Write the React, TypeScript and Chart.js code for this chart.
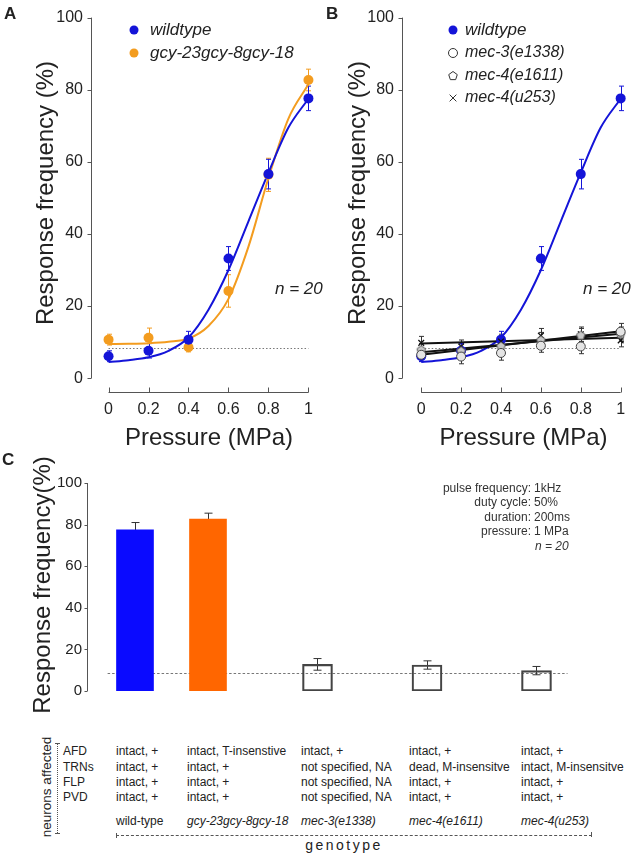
import React, { useEffect, useRef } from 'react';
import { Chart, registerables } from 'chart.js';
Chart.register(...registerables);

const FONT = '"Liberation Sans", Arial, Helvetica, sans-serif';
const BLUE = '#1414d8';
const ORANGE = '#f39c1f';
const BAR_BLUE = '#0a0aff';
const BAR_ORANGE = '#ff6600';
const TEXT = '#222222';
const AXIS = '#555555';

// ---------- data: panels A and B ----------
const pressures = [0, 0.2, 0.4, 0.6, 0.8, 1];
const wildtypeResp = [6.1, 7.6, 10.7, 33.2, 56.6, 77.6];
const wildtypeErr = [1.5, 2.0, 2.3, 3.3, 4.1, 3.4];
const gcyResp = [10.7, 11.2, 8.6, 24.2, 56.4, 82.7];
const gcyErr = [1.5, 2.7, 1.3, 4.5, 4.6, 3.0];
const fitPressures = [0, 0.1, 0.2, 0.3, 0.4, 0.5, 0.6, 0.7, 0.8, 0.9, 1];
const wildtypeFit = [4.5, 5.0, 5.8, 7.6, 11.3, 19.0, 30.0, 43.5, 57.0, 69.5, 77.5];
const gcyFit = [9.5, 9.55, 9.7, 10.1, 11.0, 14.5, 22.0, 36.5, 55.5, 72.0, 81.5];
const mec3Resp = [6.5, 6.0, 7.0, 9.0, 8.8, 12.9];
const mec3Err = [1.8, 2.0, 2.0, 1.8, 2.0, 2.3];
const mec4e1611Resp = [7.8, 7.5, 8.8, 10.5, 11.8, 12.2];
const mec4e1611Err = [1.8, 2.0, 2.0, 2.2, 2.0, 2.0];
const mec4u253Resp = [9.8, 8.8, 10.2, 11.8, 12.2, 10.5];
const mec4u253Err = [1.8, 1.8, 2.0, 2.0, 2.0, 1.8];
const linearFitEnds = [0, 1];
const mec3Fit = [6.5, 13.0];
const mec4e1611Fit = [7.2, 12.3];
const mec4u253Fit = [9.6, 11.2];
const chanceLevel = 8.5;
const pressureTicks = [0, 0.2, 0.4, 0.6, 0.8, 1];
const pressureTickLabels = ['0', '0.2', '0.4', '0.6', '0.8', '1'];
const responseTicks = [0, 20, 40, 60, 80, 100];

// ---------- data: panel C ----------
const genotypes = ['wild-type', 'gcy-23gcy-8gcy-18', 'mec-3(e1338)', 'mec-4(e1611)', 'mec-4(u253)'];
const genotypeItalic = [false, true, true, true, true];
const barResp = [77.5, 82.7, 12.8, 12.5, 9.8];
const barErr = [3.5, 2.8, 2.8, 2.0, 2.0];
const neuronNames = ['AFD', 'TRNs', 'FLP', 'PVD'];
const neuronStatus = [
  ['intact, +', 'intact, T-insenstive', 'intact, +', 'intact, +', 'intact, +'],
  ['intact, +', 'intact, +', 'not specified, NA', 'dead, M-insensitve', 'intact, M-insensitve'],
  ['intact, +', 'intact, +', 'not specified, NA', 'intact, +', 'intact, +'],
  ['intact, +', 'intact, +', 'not specified, NA', 'intact, +', 'intact, +'],
];
const stimulusLabels = ['pulse frequency:', 'duty cycle:', 'duration:', 'pressure:'];
const stimulusValues = ['1kHz', '50%', '200ms', '1 MPa'];

// ---------- layout constants ----------
const barSlots = [0, 2, 5, 8, 11];
const cBaselineSpan = [-0.75, 11.85];
const tableCols = [116, 187, 301, 409, 521];
const tableRowsY = [751, 767, 782, 797];

type Marker = 'circle' | 'pentagon' | 'cross';

function drawMarker(ctx: CanvasRenderingContext2D, kind: Marker, x: number, y: number, r: number, fill: string | null, stroke: string | null, lw = 1) {
  ctx.save();
  ctx.beginPath();
  if (kind === 'circle') {
    ctx.arc(x, y, r, 0, Math.PI * 2);
  } else if (kind === 'pentagon') {
    for (let k = 0; k < 5; k++) {
      const a = -Math.PI / 2 + (k * 2 * Math.PI) / 5;
      const px = x + r * Math.cos(a);
      const py = y + r * Math.sin(a);
      if (k) ctx.lineTo(px, py); else ctx.moveTo(px, py);
    }
    ctx.closePath();
  } else {
    const d = r * 0.75;
    ctx.moveTo(x - d, y - d); ctx.lineTo(x + d, y + d);
    ctx.moveTo(x + d, y - d); ctx.lineTo(x - d, y + d);
  }
  if (fill && kind !== 'cross') { ctx.fillStyle = fill; ctx.fill(); }
  if (stroke) { ctx.strokeStyle = stroke; ctx.lineWidth = lw; ctx.stroke(); }
  ctx.restore();
}

function pentagonImage(r: number, fill: string, stroke: string) {
  const s = Math.ceil(r * 2 + 4);
  const c = document.createElement('canvas');
  c.width = s; c.height = s;
  const g = c.getContext('2d')!;
  drawMarker(g, 'pentagon', s / 2, s / 2, r, fill, stroke, 1);
  return c;
}

function drawErr(ctx: CanvasRenderingContext2D, xs: any, ys: any, xv: number[], vals: number[], errs: number[], color: string, cap: number) {
  ctx.save();
  ctx.strokeStyle = color;
  ctx.lineWidth = 1;
  xv.forEach((v, i) => {
    const px = Math.round(xs.getPixelForValue(v)) + 0.5;
    const t = ys.getPixelForValue(vals[i] + errs[i]);
    const b = ys.getPixelForValue(vals[i] - errs[i]);
    ctx.beginPath();
    ctx.moveTo(px, t); ctx.lineTo(px, b);
    ctx.moveTo(px - cap, t); ctx.lineTo(px + cap, t);
    ctx.moveTo(px - cap, b); ctx.lineTo(px + cap, b);
    ctx.stroke();
  });
  ctx.restore();
}

function drawYAxis(ctx: CanvasRenderingContext2D, chart: any, tickLen: number) {
  const { y } = chart.scales;
  const left = Math.round(chart.chartArea.left) + 0.5;
  ctx.save();
  ctx.strokeStyle = AXIS;
  ctx.lineWidth = 1;
  ctx.beginPath();
  ctx.moveTo(left, y.getPixelForValue(responseTicks[0]));
  ctx.lineTo(left, y.getPixelForValue(responseTicks[responseTicks.length - 1]));
  responseTicks.forEach((v) => {
    const py = Math.round(y.getPixelForValue(v)) + 0.5;
    ctx.moveTo(left - tickLen, py); ctx.lineTo(left, py);
  });
  ctx.stroke();
  ctx.restore();
}

function drawXAxis(ctx: CanvasRenderingContext2D, chart: any) {
  const { x } = chart.scales;
  const bottom = Math.round(chart.chartArea.bottom) - 0.5;
  ctx.save();
  ctx.strokeStyle = AXIS;
  ctx.lineWidth = 1;
  ctx.beginPath();
  ctx.moveTo(x.getPixelForValue(pressureTicks[0]), bottom);
  ctx.lineTo(x.getPixelForValue(pressureTicks[pressureTicks.length - 1]), bottom);
  pressureTicks.forEach((v) => {
    const px = Math.round(x.getPixelForValue(v)) + 0.5;
    ctx.moveTo(px, bottom); ctx.lineTo(px, bottom - 5);
  });
  ctx.stroke();
  ctx.restore();
}

function drawText(ctx: CanvasRenderingContext2D, text: string, x: number, y: number, font: string, align: CanvasTextAlign, baseline: CanvasTextBaseline, rotate = 0) {
  ctx.save();
  ctx.translate(x, y);
  if (rotate) ctx.rotate(rotate);
  ctx.font = font;
  ctx.fillStyle = TEXT;
  ctx.textAlign = align;
  ctx.textBaseline = baseline;
  ctx.fillText(text, 0, 0);
  ctx.restore();
}

interface LegendItem { label: string; kind: Marker; fill: string | null; stroke: string | null; size: number }
interface ErrSet { vals: number[]; errs: number[]; color: string }
interface PanelOpts {
  yTitleX: number; xTitleX: number; legendX: number; legendTextX: number; legendY: number[];
  legend: LegendItem[]; errSets: ErrSet[];
}

function panelPlugin(p: PanelOpts) {
  return {
    id: 'panelDecor',
    beforeDatasetsDraw(chart: any) {
      const { ctx, scales: { x, y } } = chart;
      ctx.save();
      ctx.strokeStyle = '#777';
      ctx.lineWidth = 1;
      ctx.setLineDash([1.5, 2]);
      const yy = Math.round(y.getPixelForValue(chanceLevel)) + 0.5;
      ctx.beginPath();
      ctx.moveTo(x.getPixelForValue(0), yy);
      ctx.lineTo(x.getPixelForValue(1), yy);
      ctx.stroke();
      ctx.restore();
      p.errSets.forEach((e) => drawErr(ctx, x, y, pressures, e.vals, e.errs, e.color, 2.5));
    },
    afterDraw(chart: any) {
      const { ctx } = chart;
      drawYAxis(ctx, chart, 4);
      drawXAxis(ctx, chart);
      drawText(ctx, 'Response frequency (%)', p.yTitleX, 193, `24px ${FONT}`, 'center', 'alphabetic', -Math.PI / 2);
      drawText(ctx, 'Pressure (MPa)', p.xTitleX, 445, `24px ${FONT}`, 'center', 'alphabetic');
      p.legend.forEach((it, i) => {
        drawMarker(ctx, it.kind, p.legendX, p.legendY[i], 4.5, it.fill, it.stroke, 1);
        drawText(ctx, it.label, p.legendTextX, p.legendY[i], `italic ${it.size}px ${FONT}`, 'left', 'middle');
      });
    },
  };
}

function xyScales(xMin: number, xMax: number, yWidth: number, xHeight: number) {
  return {
    x: {
      type: 'linear', min: xMin, max: xMax, offset: false,
      afterBuildTicks: (s: any) => { s.ticks = pressureTicks.map((v) => ({ value: v })); },
      afterFit: (s: any) => { s.height = xHeight; },
      ticks: {
        callback: (_v: any, i: number) => pressureTickLabels[i],
        color: TEXT, font: { family: FONT, size: 16 }, padding: 7,
        maxRotation: 0, minRotation: 0, autoSkip: false,
      },
      grid: { display: false, drawTicks: false },
      border: { display: false },
    },
    y: {
      type: 'linear', min: -4.1, max: 100,
      afterBuildTicks: (s: any) => { s.ticks = responseTicks.map((v) => ({ value: v })); },
      afterFit: (s: any) => { s.width = yWidth; },
      ticks: {
        callback: (_v: any, i: number) => String(responseTicks[i]),
        color: TEXT, font: { family: FONT, size: 16 }, padding: 8, autoSkip: false,
      },
      grid: { display: false, drawTicks: false },
      border: { display: false },
    },
  };
}

const pts = (xs: number[], ys: number[]) => xs.map((x, i) => ({ x, y: ys[i] }));

function buildA(canvas: HTMLCanvasElement) {
  return new Chart(canvas, {
    type: 'line',
    data: {
      datasets: [
        { data: pts(pressures, wildtypeResp), showLine: false, pointRadius: 5, pointBackgroundColor: BLUE, pointBorderWidth: 0, clip: false },
        { data: pts(pressures, gcyResp), showLine: false, pointRadius: 5, pointBackgroundColor: ORANGE, pointBorderWidth: 0, clip: false },
        { data: pts(fitPressures, wildtypeFit), borderColor: BLUE, borderWidth: 2, pointRadius: 0, cubicInterpolationMode: 'monotone', fill: false, clip: false },
        { data: pts(fitPressures, gcyFit), borderColor: ORANGE, borderWidth: 2, pointRadius: 0, cubicInterpolationMode: 'monotone', fill: false, clip: false },
      ],
    },
    options: {
      animation: false, responsive: false,
      layout: { padding: { top: 12, left: 0, right: 0, bottom: 0 } },
      plugins: { legend: { display: false }, tooltip: { enabled: false } },
      scales: xyScales(-0.0878, 1.0293, 91, 460 - 393) as any,
    },
    plugins: [panelPlugin({
      yTitleX: 53, xTitleX: 209, legendX: 134, legendTextX: 150, legendY: [30, 53],
      legend: [
        { label: 'wildtype', kind: 'circle', fill: BLUE, stroke: null, size: 17 },
        { label: 'gcy-23gcy-8gcy-18', kind: 'circle', fill: ORANGE, stroke: null, size: 17 },
      ],
      errSets: [
        { vals: gcyResp, errs: gcyErr, color: ORANGE },
        { vals: wildtypeResp, errs: wildtypeErr, color: BLUE },
      ],
    })],
  } as any);
}

function buildB(canvas: HTMLCanvasElement) {
  const pent = pentagonImage(4.5, '#c8c8c8', '#555');
  return new Chart(canvas, {
    type: 'line',
    data: {
      datasets: [
        { data: pts(pressures, mec3Resp), showLine: false, pointRadius: 4.5, pointStyle: 'circle', pointBackgroundColor: '#e4e4e4', pointBorderColor: '#444', pointBorderWidth: 1, clip: false },
        { data: pts(pressures, mec4e1611Resp), showLine: false, pointRadius: 4.5, pointStyle: pent, clip: false },
        { data: pts(pressures, mec4u253Resp), showLine: false, pointRadius: 4, pointStyle: 'crossRot', pointBorderColor: '#111', pointBorderWidth: 1.3, clip: false },
        { data: pts(pressures, wildtypeResp), showLine: false, pointRadius: 5, pointBackgroundColor: BLUE, pointBorderWidth: 0, clip: false },
        { data: pts(linearFitEnds, mec3Fit), borderColor: '#111', borderWidth: 2, pointRadius: 0, fill: false, clip: false },
        { data: pts(linearFitEnds, mec4e1611Fit), borderColor: '#111', borderWidth: 2, pointRadius: 0, fill: false, clip: false },
        { data: pts(linearFitEnds, mec4u253Fit), borderColor: '#111', borderWidth: 2, pointRadius: 0, fill: false, clip: false },
        { data: pts(fitPressures, wildtypeFit), borderColor: BLUE, borderWidth: 2, pointRadius: 0, cubicInterpolationMode: 'monotone', fill: false, clip: false },
      ],
    },
    options: {
      animation: false, responsive: false,
      layout: { padding: { top: 12, left: 0, right: 0, bottom: 0 } },
      plugins: { legend: { display: false }, tooltip: { enabled: false } },
      scales: xyScales(-0.0964, 1.0343, 82, 460 - 393) as any,
    },
    plugins: [panelPlugin({
      yTitleX: 45, xTitleX: 203.5, legendX: 133, legendTextX: 145, legendY: [30, 53, 76, 98],
      legend: [
        { label: 'wildtype', kind: 'circle', fill: BLUE, stroke: null, size: 17 },
        { label: 'mec-3(e1338)', kind: 'circle', fill: '#fff', stroke: '#333', size: 16 },
        { label: 'mec-4(e1611)', kind: 'pentagon', fill: '#fff', stroke: '#333', size: 16 },
        { label: 'mec-4(u253)', kind: 'cross', fill: null, stroke: '#333', size: 16 },
      ],
      errSets: [
        { vals: mec3Resp, errs: mec3Err, color: '#333' },
        { vals: mec4e1611Resp, errs: mec4e1611Err, color: '#333' },
        { vals: mec4u253Resp, errs: mec4u253Err, color: '#333' },
        { vals: wildtypeResp, errs: wildtypeErr, color: BLUE },
      ],
    })],
  } as any);
}

function buildC(canvas: HTMLCanvasElement) {
  const colored = [0, 1];
  const open = [2, 3, 4];
  const plugin = {
    id: 'barDecor',
    beforeDatasetsDraw(chart: any) {
      const { ctx, scales: { x, y } } = chart;
      ctx.save();
      ctx.strokeStyle = '#777';
      ctx.lineWidth = 1;
      ctx.setLineDash([2.5, 2]);
      const yy = Math.round(y.getPixelForValue(chanceLevel)) + 0.5;
      ctx.beginPath();
      ctx.moveTo(x.getPixelForValue(cBaselineSpan[0]), yy);
      ctx.lineTo(x.getPixelForValue(cBaselineSpan[1]), yy);
      ctx.stroke();
      ctx.restore();
      drawErr(ctx, x, y, barSlots, barResp, barErr, '#333', 4);
    },
    afterDraw(chart: any) {
      const { ctx } = chart;
      drawYAxis(ctx, chart, 3);
      drawText(ctx, 'Response frequency(%)', 50, 145, `24px ${FONT}`, 'center', 'alphabetic', -Math.PI / 2);
    },
  };
  return new Chart(canvas, {
    type: 'bar',
    data: {
      datasets: [
        {
          data: colored.map((i) => ({ x: barSlots[i], y: barResp[i] })),
          backgroundColor: [BAR_BLUE, BAR_ORANGE], borderWidth: 0, barThickness: 37, grouped: false,
        },
        {
          data: open.map((i) => ({ x: barSlots[i], y: barResp[i] })),
          backgroundColor: 'rgba(255,255,255,0)', borderColor: '#444', borderWidth: 1.5, borderSkipped: false,
          barThickness: 30, grouped: false,
        },
      ],
    },
    options: {
      animation: false, responsive: false,
      layout: { padding: { top: 43, left: 0, right: 0, bottom: 34 } },
      plugins: { legend: { display: false }, tooltip: { enabled: false } },
      scales: {
        x: { type: 'linear', display: false, min: -1.315, max: 13.644, offset: false },
        y: {
          type: 'linear', min: 0, max: 100,
          afterBuildTicks: (s: any) => { s.ticks = responseTicks.map((v) => ({ value: v })); },
          afterFit: (s: any) => { s.width = 87; },
          ticks: { callback: (_v: any, i: number) => String(responseTicks[i]), color: TEXT, font: { family: FONT, size: 15 }, padding: 5, autoSkip: false },
          grid: { display: false, drawTicks: false },
          border: { display: false },
        },
      },
    },
    plugins: [plugin],
  } as any);
}

function Txt(props: { x: number; y: number; children: React.ReactNode; size?: number; italic?: boolean; bold?: boolean; anchor?: 'start' | 'middle' | 'end'; style?: React.CSSProperties }) {
  const { x, y, children, size = 12, italic = false, bold = false, anchor = 'start', style } = props;
  const tx = anchor === 'end' ? '-100%' : anchor === 'middle' ? '-50%' : '0';
  return (
    <div style={{
      position: 'absolute', left: x, top: y, transform: `translate(${tx}, -50%)`,
      fontSize: size, fontStyle: italic ? 'italic' : 'normal', fontWeight: bold ? 700 : 400,
      whiteSpace: 'nowrap', lineHeight: 1, color: TEXT, ...style,
    }}>{children}</div>
  );
}

export default function App() {
  const refA = useRef<HTMLCanvasElement>(null);
  const refB = useRef<HTMLCanvasElement>(null);
  const refC = useRef<HTMLCanvasElement>(null);
  useEffect(() => {
    const charts = [buildA(refA.current!), buildB(refB.current!), buildC(refC.current!)];
    return () => charts.forEach((c) => c.destroy());
  }, []);
  const stimY = [488, 502, 517, 531];
  return (
    <div style={{ position: 'absolute', left: 0, top: 0, width: 633, height: 853, background: '#fff', fontFamily: FONT, color: TEXT, overflow: 'hidden' }}>
      <canvas ref={refA} width={320} height={460} style={{ position: 'absolute', left: 0, top: 0 }} />
      <canvas ref={refB} width={313} height={460} style={{ position: 'absolute', left: 320, top: 0 }} />
      <canvas ref={refC} width={633} height={285} style={{ position: 'absolute', left: 0, top: 440 }} />

      <Txt x={4} y={13} size={17} bold>A</Txt>
      <Txt x={326} y={13} size={17} bold>B</Txt>
      <Txt x={2} y={459} size={17} bold>C</Txt>

      <Txt x={275} y={288} size={17} italic>n = 20</Txt>
      <Txt x={583} y={288} size={17} italic>n = 20</Txt>

      {stimulusLabels.map((l, i) => (
        <React.Fragment key={l}>
          <Txt x={531} y={stimY[i]} anchor="end" style={{ color: '#333' }}>{l}</Txt>
          <Txt x={534} y={stimY[i]} style={{ color: '#333' }}>{stimulusValues[i]}</Txt>
        </React.Fragment>
      ))}
      <Txt x={535} y={546} italic style={{ color: '#333' }}>n = 20</Txt>

      {neuronNames.map((n, r) => (
        <React.Fragment key={n}>
          <Txt x={63} y={tableRowsY[r]}>{n}</Txt>
          {neuronStatus[r].map((s, c) => (
            <Txt key={c} x={tableCols[c]} y={tableRowsY[r]}>{s}</Txt>
          ))}
        </React.Fragment>
      ))}
      {genotypes.map((g, c) => (
        <Txt key={g} x={tableCols[c]} y={821} italic={genotypeItalic[c]}>{g}</Txt>
      ))}

      <div style={{ position: 'absolute', left: 47, top: 787, transform: 'translate(-50%, -50%) rotate(-90deg)', fontSize: 13.5, lineHeight: 1, whiteSpace: 'nowrap', color: TEXT }}>neurons affected</div>
      <div style={{ position: 'absolute', left: 57, top: 743, height: 90, borderLeft: '1px dotted #555' }} />
      <div style={{ position: 'absolute', left: 55, top: 743, width: 5, borderTop: '1px solid #555' }} />
      <div style={{ position: 'absolute', left: 55, top: 833, width: 5, borderTop: '1px solid #555' }} />

      <div style={{ position: 'absolute', left: 116, top: 835, width: 476, borderTop: '1px dashed #555' }} />
      <div style={{ position: 'absolute', left: 116, top: 833, height: 5, borderLeft: '1px solid #555' }} />
      <div style={{ position: 'absolute', left: 591, top: 832, height: 5, borderLeft: '1px solid #555' }} />
      <Txt x={344} y={845} size={14} anchor="middle" style={{ letterSpacing: 2.5 }}>genotype</Txt>
    </div>
  );
}
